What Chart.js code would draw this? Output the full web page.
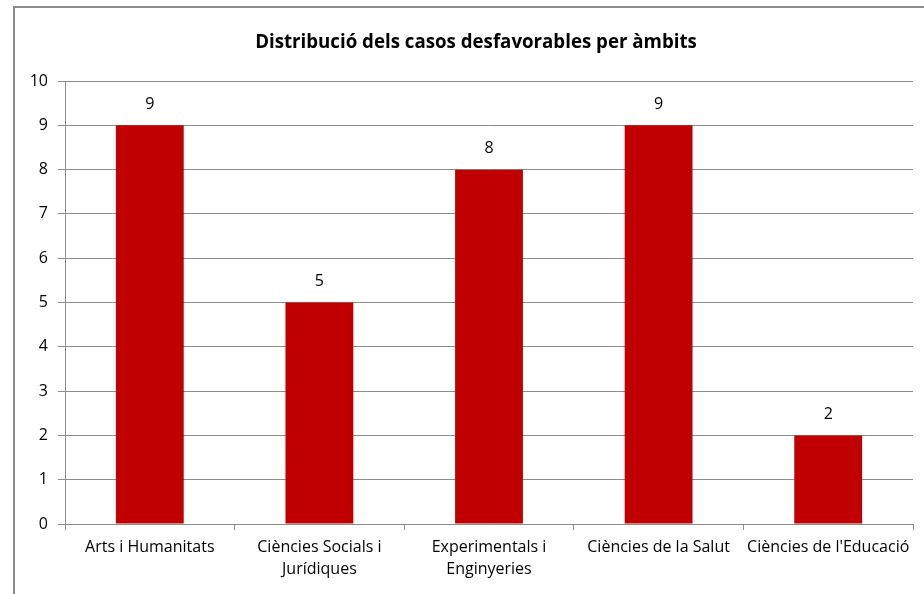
<!DOCTYPE html>
<html lang="ca">
<head>
  <meta charset="UTF-8">
  <title>Distribució dels casos desfavorables per àmbits</title>
  <script src="https://cdn.jsdelivr.net/npm/chart.js"></script>
  <style>
    body { margin: 0; background: #fff; overflow: hidden; }
    .frame { position: absolute; left: 13px; top: 6px; width: 926px; height: 600px; border: 2px solid #8c8c8c; }
  </style>
</head>
<body>
  <div class="frame">
    <canvas id="chart" width="926" height="600"></canvas>
  </div>

  <script>
    const titleText = 'Distribució dels casos desfavorables per àmbits';
    const categories = [
      'Arts i Humanitats',
      ['Ciències Socials i', 'Jurídiques'],
      ['Experimentals i', 'Enginyeries'],
      'Ciències de la Salut',
      "Ciències de l'Educació"
    ];
    const cases = [9, 5, 8, 9, 2];
    const yTicks = [0, 1, 2, 3, 4, 5, 6, 7, 8, 9, 10];

    const FONT = '"Open Sans", Lato, sans-serif';
    const GRID = '#8c8c8c';

    // value labels above each bar
    const barLabels = {
      id: 'barLabels',
      afterDatasetsDraw(chart) {
        const ctx = chart.ctx;
        const meta = chart.getDatasetMeta(0);
        ctx.save();
        ctx.font = '16px ' + FONT;
        ctx.fillStyle = '#000';
        ctx.textAlign = 'center';
        ctx.textBaseline = 'middle';
        meta.data.forEach((bar, i) => {
          ctx.fillText(String(cases[i]), bar.x, bar.y - 21);
        });
        ctx.restore();
      }
    };

    // the original title is centred a bit right of the plot, nudge its box
    const titleNudge = {
      id: 'titleNudge',
      afterLayout(chart) {
        if (chart.titleBlock) chart.titleBlock.left += 24;
      }
    };

    new Chart(document.getElementById('chart'), {
      type: 'bar',
      data: {
        labels: categories,
        datasets: [{
          data: cases,
          backgroundColor: '#c00000',
          borderWidth: 0,
          barPercentage: 0.4,
          categoryPercentage: 1
        }]
      },
      options: {
        responsive: false,
        animation: false,
        layout: { padding: { left: 0, right: 28, top: 0, bottom: 0 } },
        plugins: {
          legend: { display: false },
          tooltip: { enabled: false },
          title: {
            display: true,
            text: titleText,
            color: '#000',
            font: { family: FONT, size: 18.7, weight: 'bold', lineHeight: 1.2 },
            padding: { top: 23, bottom: 27.6 }
          }
        },
        scales: {
          y: {
            min: 0,
            max: 10,
            afterFit(scale) { scale.width = 50; },
            afterBuildTicks(scale) { scale.ticks = yTicks.map(v => ({ value: v })); },
            border: { color: GRID, width: 1 },
            grid: { color: GRID, tickLength: 7, lineWidth: 1 },
            ticks: { color: '#000', padding: 10, font: { family: FONT, size: 16 } }
          },
          x: {
            afterFit(scale) { scale.height = 84; },
            border: { color: GRID, width: 1 },
            grid: { color: GRID, drawOnChartArea: false, tickLength: 6, offset: true },
            ticks: {
              color: '#000',
              padding: 7,
              maxRotation: 0,
              autoSkip: false,
              font: { family: FONT, size: 16, lineHeight: 1.35 }
            }
          }
        }
      },
      plugins: [barLabels, titleNudge]
    });
  </script>
</body>
</html>
